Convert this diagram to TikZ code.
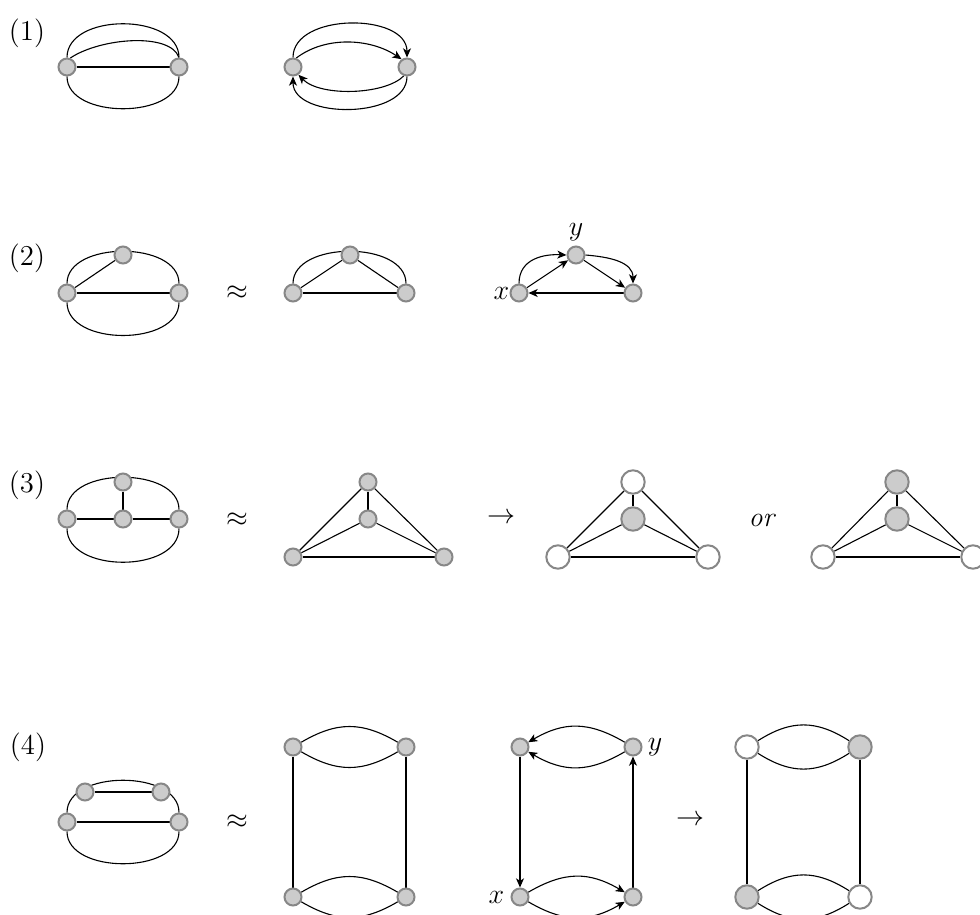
\documentclass[tikz,border=0pt]{standalone}
\usepackage{fix-cm}
\usetikzlibrary{arrows.meta,backgrounds}
\begin{document}
\begin{tikzpicture}[x=0.5pt,y=-0.5pt,
  v/.style={circle,draw=black!47,fill=black!20,line width=1pt,minimum size=8.5pt,inner sep=0pt},
  bigv/.style={circle,draw=black!47,fill=black!20,line width=1pt,minimum size=11.7pt,inner sep=0pt},
  bigw/.style={circle,draw=black!47,fill=white,line width=1pt,minimum size=11.7pt,inner sep=0pt},
  edge/.style={line width=0.55pt},
  arr/.style={line width=0.55pt,-{Stealth[length=4.6pt,width=4pt,inset=1.3pt]}},
  lbl/.style={inner sep=0pt,font=\fontsize{14.4}{17}\selectfont},
  sym/.style={inner sep=0pt,font=\fontsize{14}{17}\selectfont}]
\useasboundingbox (0,0) rectangle (980,915);

% ---------- labels ----------
\node[lbl] (l1) at (27,33) {(1)};
\node[lbl] (l2) at (27,258) {(2)};
\node[lbl] (l3) at (27,485) {(3)};
\node[lbl] (l4) at (28,747) {(4)};
\node[sym] (ap2) at (237,293) {$\approx$};
\node[sym] (ap3) at (237,520) {$\approx$};
\node[sym] (to3) at (501,518) {$\rightarrow$};
\node[sym] (or3) at (763,520) {$\mathit{or}$};
\node[sym] (ap4) at (237,822) {$\approx$};
\node[sym] (to4) at (690,820) {$\rightarrow$};

% ---------- row 1 ----------
\node[v] (a1) at (67,67) {};
\node[v] (b1) at (179,67) {};
\node[v] (c1) at (293,67) {};
\node[v] (d1) at (407,67) {};
\begin{scope}[on background layer]
\draw[edge] (a1) -- (b1);
\draw[edge] (a1.north) .. controls +(0,-45) and +(0,-45) .. (b1.north);
\draw[edge] (a1.70) .. controls (100,38) and (170,32) .. (b1.north);
\draw[edge] (a1.south) .. controls +(0,43) and +(0,43) .. (b1.south);
\draw[arr] (c1.north) .. controls +(0,-45) and +(0,-45) .. (d1.north);
\draw[arr] (c1.70) .. controls (325,36) and (370,38) .. (d1.125);
\draw[arr] (d1.south) .. controls +(0,43) and +(0,43) .. (c1.south);
\draw[arr] (d1.-110) .. controls (385,95) and (320,97) .. (c1.-55);
\end{scope}

% ---------- row 2 ----------
\node[v] (a2) at (67,293) {};
\node[v] (b2) at (179,293) {};
\node[v] (t2) at (123,255) {};
\node[v] (a3) at (293,293) {};
\node[v] (b3) at (406,293) {};
\node[v] (t3) at (350,255) {};
\node[v] (x2) at (519,293) {};
\node[v] (z2) at (633,293) {};
\node[v] (y2) at (576,255) {};
\node[sym,anchor=east] (xl2) at (x2.west) {$x$};
\node[sym] (yl2) at (576,232) {$y$};
\begin{scope}[on background layer]
\draw[edge] (a2.north) .. controls +(0,-43) and +(0,-43) .. (b2.north);
\draw[edge] (a2.south) .. controls +(0,44) and +(0,44) .. (b2.south);
\draw[edge] (a2) -- (b2);
\draw[edge] (a2) -- (t2);
\draw[edge] (a3.north) .. controls +(0,-43) and +(0,-43) .. (b3.north);
\draw[edge] (a3) -- (t3);
\draw[edge] (t3) -- (b3);
\draw[edge] (a3) -- (b3);
\draw[arr] (x2.north) .. controls (519,258) and (545,254) .. (y2.west);
\draw[arr] (y2.east) .. controls (610,257) and (633,262) .. (z2.north);
\draw[arr] (x2) -- (y2);
\draw[arr] (y2) -- (z2);
\draw[arr] (z2) -- (x2);
\end{scope}

% ---------- row 3 ----------
\node[v] (a4) at (67,519) {};
\node[v] (c4) at (123,519) {};
\node[v] (b4) at (179,519) {};
\node[v] (t4) at (123,482) {};
\node[v] (p1) at (368,482) {};
\node[v] (q1) at (368,519) {};
\node[v] (r1) at (293,557) {};
\node[v] (s1) at (444,557) {};
\node[bigw] (p2) at (633,482) {};
\node[bigv] (q2) at (633,519) {};
\node[bigw] (r2) at (558,557) {};
\node[bigw] (s2) at (708,557) {};
\node[bigv] (p3) at (897,482) {};
\node[bigv] (q3) at (897,519) {};
\node[bigw] (r3) at (823,557) {};
\node[bigw] (s3) at (973,557) {};
\begin{scope}[on background layer]
\draw[edge] (a4.north) .. controls +(0,-43) and +(0,-43) .. (b4.north);
\draw[edge] (a4.south) .. controls +(0,45) and +(0,45) .. (b4.south);
\draw[edge] (a4) -- (c4);
\draw[edge] (c4) -- (b4);
\draw[edge] (t4) -- (c4);
\foreach \i in {1,2,3}{
  \draw[edge] (r\i) -- (p\i);
  \draw[edge] (r\i) -- (q\i);
  \draw[edge] (r\i) -- (s\i);
  \draw[edge] (p\i) -- (q\i);
  \draw[edge] (p\i) -- (s\i);
  \draw[edge] (q\i) -- (s\i);
}
\end{scope}

% ---------- row 4 ----------
\node[v] (a5) at (67,822) {};
\node[v] (b5) at (179,822) {};
\node[v] (e5) at (85,792) {};
\node[v] (f5) at (161,792) {};
\node[v] (g1) at (293,747) {};
\node[v] (h1) at (406,747) {};
\node[v] (i1) at (293,897) {};
\node[v] (j1) at (406,897) {};
\node[v] (g2) at (520,747) {};
\node[v] (h2) at (633,747) {};
\node[v] (i2) at (520,897) {};
\node[v] (j2) at (633,897) {};
\node[sym,anchor=west] (yl4) at ([xshift=2.5pt]h2.east) {$y$};
\node[sym,anchor=east] (xl4) at ([xshift=-3pt]i2.west) {$x$};
\node[bigw] (g3) at (747,747) {};
\node[bigv] (h3) at (860,747) {};
\node[bigv] (i3) at (747,897) {};
\node[bigw] (j3) at (860,897) {};
\begin{scope}[on background layer]
\draw[edge] (a5.north) .. controls +(0,-43) and +(0,-43) .. (b5.north);
\draw[edge] (a5.south) .. controls +(0,43) and +(0,43) .. (b5.south);
\draw[edge] (a5) -- (b5);
\draw[edge] (e5) -- (f5);
% middle
\draw[edge] (g1.30) .. controls +(36,-21) and +(-36,-21) .. (h1.150);
\draw[edge] (g1.-30) .. controls +(36,21) and +(-36,21) .. (h1.-150);
\draw[edge] (i1.30) .. controls +(36,-21) and +(-36,-21) .. (j1.150);
\draw[edge] (i1.-30) .. controls +(36,21) and +(-36,21) .. (j1.-150);
\draw[edge] (g1) -- (i1);
\draw[edge] (h1) -- (j1);
% directed
\draw[arr] (h2.150) .. controls +(-36,-21) and +(36,-21) .. (g2.30);
\draw[arr] (h2.-150) .. controls +(-36,21) and +(36,21) .. (g2.-30);
\draw[arr] (i2.30) .. controls +(36,-21) and +(-36,-21) .. (j2.150);
\draw[arr] (i2.-30) .. controls +(36,21) and +(-36,21) .. (j2.-150);
\draw[arr] (g2) -- (i2);
\draw[arr] (j2) -- (h2);
% coloured
\draw[edge] (g3.30) .. controls +(33,-21) and +(-33,-21) .. (h3.150);
\draw[edge] (g3.-30) .. controls +(33,21) and +(-33,21) .. (h3.-150);
\draw[edge] (i3.30) .. controls +(33,-21) and +(-33,-21) .. (j3.150);
\draw[edge] (i3.-30) .. controls +(33,21) and +(-33,21) .. (j3.-150);
\draw[edge] (g3) -- (i3);
\draw[edge] (h3) -- (j3);
\end{scope}
\end{tikzpicture}
\end{document}
